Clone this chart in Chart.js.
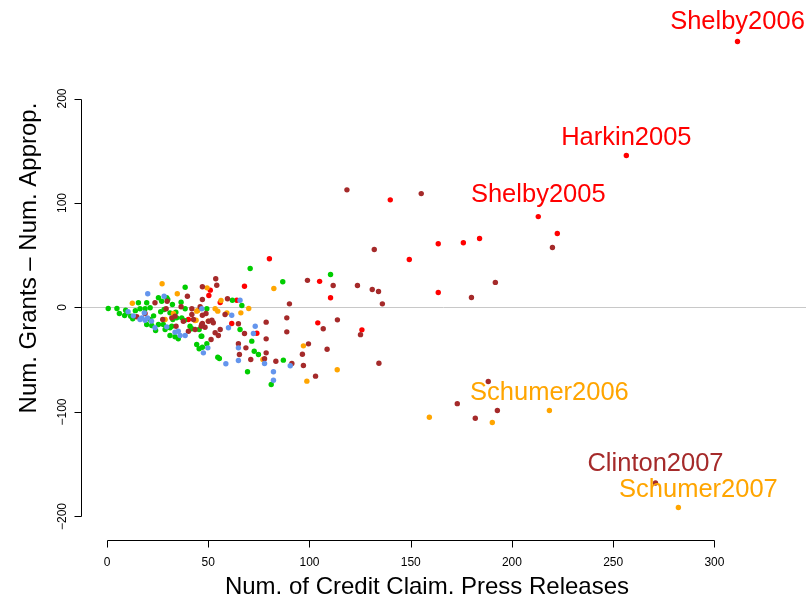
<!DOCTYPE html>
<html><head><meta charset="utf-8">
<script src="https://cdn.jsdelivr.net/npm/chart.js@4/dist/chart.umd.min.js"></script>
<style>html,body{margin:0;padding:0;background:#fff}#wrap{width:806px;height:603px}</style>
</head><body><div id="wrap"><canvas id="c" width="806" height="603"></canvas></div>
<script>
// ---- data ----
const redX = [311.4,256.5,213,222.4,163.6,176,184,149.3,163.6,139.9,105,110.4,104.1,125.9,80.2,67.9,51,50.3,55.9,64.1,61.6,74,40.2];
const redY = [254.5,145.5,87,70.8,61,62,66,46,14.4,103,25,9.3,-14.7,-21.4,46.6,20.4,16.6,11.5,4.8,7,-15.3,-24.6,-11.5];

const brownX = [220,180,191.8,155.2,188.3,173,192.8,181.9,270.9,
  118.5,132,99,111.7,123.7,131,134.1,136,113.8,106.8,125.2,99.5,96.5,108.7,97,134.3,103,
  53.7,54.2,47.1,47.1,59.5,90.1,46,58.3,47.1,48.9,88.8,51.8,50.1,78.6,64.9,47.1,46.5,48.4,55.9,88.8,67.9,53.4,55,51.4,78.6,64.9,68.6,78.6,65.4,71,77.8,83.4,91.3,
  14.7,18.8,23.7,29.7,29.2,32,27.5,34.1,39.7,36.6,41.9,41.9,40.2,43.5,46.8,33.6,37.7,42.7,52.5];
const brownY = [57.4,9.6,24,109,-70.8,-92,-98.6,-106,-168,
  112.6,55.5,26,21,21,17.2,15.3,3.5,-11.8,-20.4,-26,-34.8,-44.7,-39.9,-55.5,-53.3,-65.7,
  27.5,21.3,19.8,7.7,8.3,3.5,0.7,-6.7,-7.4,-5.7,-9.9,-12.2,-13.1,-14,-15.6,-15.3,-17.9,-18.9,-21,-23.3,-24.9,-24.2,-26.8,-30.6,-30,-34.7,-38.6,-43.4,-45,-49.8,-49.1,-51.4,-53.6,
  -8.9,-5.7,4.5,6,-1.2,-9.9,-11.5,-17.9,10.8,0.7,-1.2,-6.7,-22.7,-21,-16.3,-8.3,-13.1,-11.5,-14.6];

const orangeX = [218.5,159.2,190.3,282.2,97,113.7,98.7,82.4,49.4,56.3,44.8,53.4,54.7,59.2,66.1,70,44,77,12.5,27.2,32.8,34.7,44.3,43.5,50,28.7];
const orangeY = [-98.6,-105,-110,-191.4,-36.7,-59.6,-70.5,18.2,18.8,6.7,-2.9,-1.2,-3.5,-5.1,-5.1,-1,-12.2,-49.8,4.1,22.7,-5.7,13.1,-3.5,-12.4,-13,-11.5];

const greenX = [110.4,70.7,86.8,61.9,66.6,49.3,65.7,45.5,46.5,71.5,49.3,44.3,45.5,47.1,72.7,74.8,87.1,54.7,55.5,69.4,81.1,
  0.6,4.9,6.1,9.2,8.7,11.7,12.7,15.5,19.6,16.3,18.8,21.3,21.3,19.6,22.1,25.4,25.4,27,30,32.3,28.2,31.1,34,34.4,32,31.1,33.6,35.2,38.6,36.6,38.6,36.9,38.2,41.9,46.8,27.8,28.7,
  29.5,32.5,41,31.1,14,23,10,24,26.5];
const greenY = [31.6,37.3,24.6,7,1.9,-1.2,-21,-21,-27.5,-32.2,-34.7,-35.4,-39.5,-38,-41.8,-45,-50.4,-47.6,-48.8,-61.5,-73.7,
  -1,-1,-5.7,-2.6,-7.7,-8.3,-10.8,4.5,4.5,-1.2,-1.2,-0.3,-11.5,-16.3,-17.2,-16.3,9.3,6,7.7,2.9,-1.9,-5.1,-4.5,-9.9,-17.9,-26.8,-28,-30,19.4,5.1,-1.2,-9.9,-12.4,-20.4,-27.5,-16.3,-21,
  9.3,-11.5,-17.9,-19.4,-3,-8,-5,-22,-4];

const blueX = [65.7,46.8,61.6,73.2,60,72.3,49.8,47.6,64.9,77.8,90.5,58.7,82.2,82.2,64.9,
  10.4,20.1,18.4,17.2,16.3,18.8,23.7,28.2,29.5,33.6,35.2,36.1,38.6,20,22,13];
const blueY = [7,-1.2,-7.4,-17.9,-19.4,-24.9,-38.6,-43.4,-50.7,-53.6,-55.8,-53.9,-61.5,-69.6,-38.6,
  -4.1,13.1,-5.1,-9.9,-11.5,-12.2,-19.4,10.8,-18.5,-23.6,-22.7,-26.8,-26.8,-10,-13,-8];

const xTicks = [0,50,100,150,200,250,300];
const yTicks = [-200,-100,0,100,200];

const labelNames = ["Shelby2006","Harkin2005","Shelby2005","Schumer2006","Clinton2007","Schumer2007"];
const labelX = [311.4,256.5,213,218.5,270.9,292.1];
const labelY = [266.5,155.5,101,-88.5,-156.7,-181];

const xTitle = "Num. of Credit Claim. Press Releases";
const yTitle = "Num. Grants \u2013 Num. Approp.";

// ---- styles ----
const COL = {red:"#FF0000", brown:"#A52A2A", orange:"#FFA500", green:"#00CD00", blue:"#6495ED"};
const labelColors = [COL.red,COL.red,COL.red,COL.orange,COL.brown,COL.orange];
const FONT = "'Liberation Sans', Arial, Helvetica, sans-serif";

function pts(xs, ys){ return xs.map((x,i)=>({x:x, y:ys[i]})); }
function ds(name, xs, ys, c){
  return {label:name, data:pts(xs,ys), backgroundColor:c, borderColor:c, borderWidth:0, pointRadius:2.7, pointHoverRadius:2.7};
}

const rPlot = {
  id:'rPlot',
  beforeDatasetsDraw(chart){
    const {ctx, chartArea:a, scales:{y}} = chart;
    ctx.save();
    ctx.strokeStyle = "#C8C8C8"; ctx.lineWidth = 1;
    const y0 = Math.round(y.getPixelForValue(0)) + 0.5;
    ctx.beginPath(); ctx.moveTo(a.left, y0); ctx.lineTo(chart.width, y0); ctx.stroke();
    ctx.restore();
  },
  afterDraw(chart){
    const {ctx, chartArea:a, scales:{x,y}} = chart;
    ctx.save();
    ctx.strokeStyle = "#000"; ctx.fillStyle = "#000"; ctx.lineWidth = 1;
    // x axis
    const xb = a.bottom + 0.5;
    const xl = Math.round(x.getPixelForValue(xTicks[0]))+0.5, xr = Math.round(x.getPixelForValue(xTicks[xTicks.length-1]))+0.5;
    ctx.beginPath(); ctx.moveTo(xl, xb); ctx.lineTo(xr, xb);
    xTicks.forEach(t=>{ const px=Math.round(x.getPixelForValue(t))+0.5; ctx.moveTo(px, xb); ctx.lineTo(px, xb+7); });
    ctx.stroke();
    ctx.font = "12px " + FONT; ctx.textAlign="center"; ctx.textBaseline="middle";
    xTicks.forEach(t=>{ ctx.fillText(String(t), x.getPixelForValue(t), xb+22); });
    // y axis
    const yl = a.left + 0.5;
    const yt = Math.round(y.getPixelForValue(yTicks[yTicks.length-1]))+0.5, ybm = Math.round(y.getPixelForValue(yTicks[0]))+0.5;
    ctx.beginPath(); ctx.moveTo(yl, yt); ctx.lineTo(yl, ybm);
    yTicks.forEach(t=>{ const py=Math.round(y.getPixelForValue(t))+0.5; ctx.moveTo(yl, py); ctx.lineTo(yl-7, py); });
    ctx.stroke();
    yTicks.forEach(t=>{
      ctx.save(); ctx.translate(yl-19, y.getPixelForValue(t)); ctx.rotate(-Math.PI/2);
      ctx.fillText(String(t).replace('-', '\u2212'), 0, 0); ctx.restore();
    });
    // titles
    ctx.font = "24px " + FONT;
    ctx.fillText(xTitle, 427, 587);
    ctx.save(); ctx.translate(29, 258); ctx.rotate(-Math.PI/2); ctx.fillText(yTitle, 0, 0); ctx.restore();
    // point labels
    ctx.font = "25.5px " + FONT; ctx.textBaseline = "alphabetic";
    labelNames.forEach((n,i)=>{
      ctx.fillStyle = labelColors[i];
      ctx.fillText(n, x.getPixelForValue(labelX[i]), y.getPixelForValue(labelY[i]));
    });
    ctx.restore();
  }
};

new Chart(document.getElementById('c'), {
  type:'scatter',
  data:{datasets:[
    ds('blue', blueX, blueY, COL.blue),
    ds('brown', brownX, brownY, COL.brown),
    ds('orange', orangeX, orangeY, COL.orange),
    ds('green', greenX, greenY, COL.green),
    ds('red', redX, redY, COL.red)
  ]},
  options:{
    responsive:false, animation:false, devicePixelRatio:1,
    layout:{padding:{left:81, right:0, top:10, bottom:63}},
    plugins:{legend:{display:false}, tooltip:{enabled:false}},
    scales:{
      x:{type:'linear', min:-12.85, max:343.9, display:false},
      y:{type:'linear', min:-222.5, max:284.7, display:false}
    }
  },
  plugins:[rPlot]
});
</script></body></html>
